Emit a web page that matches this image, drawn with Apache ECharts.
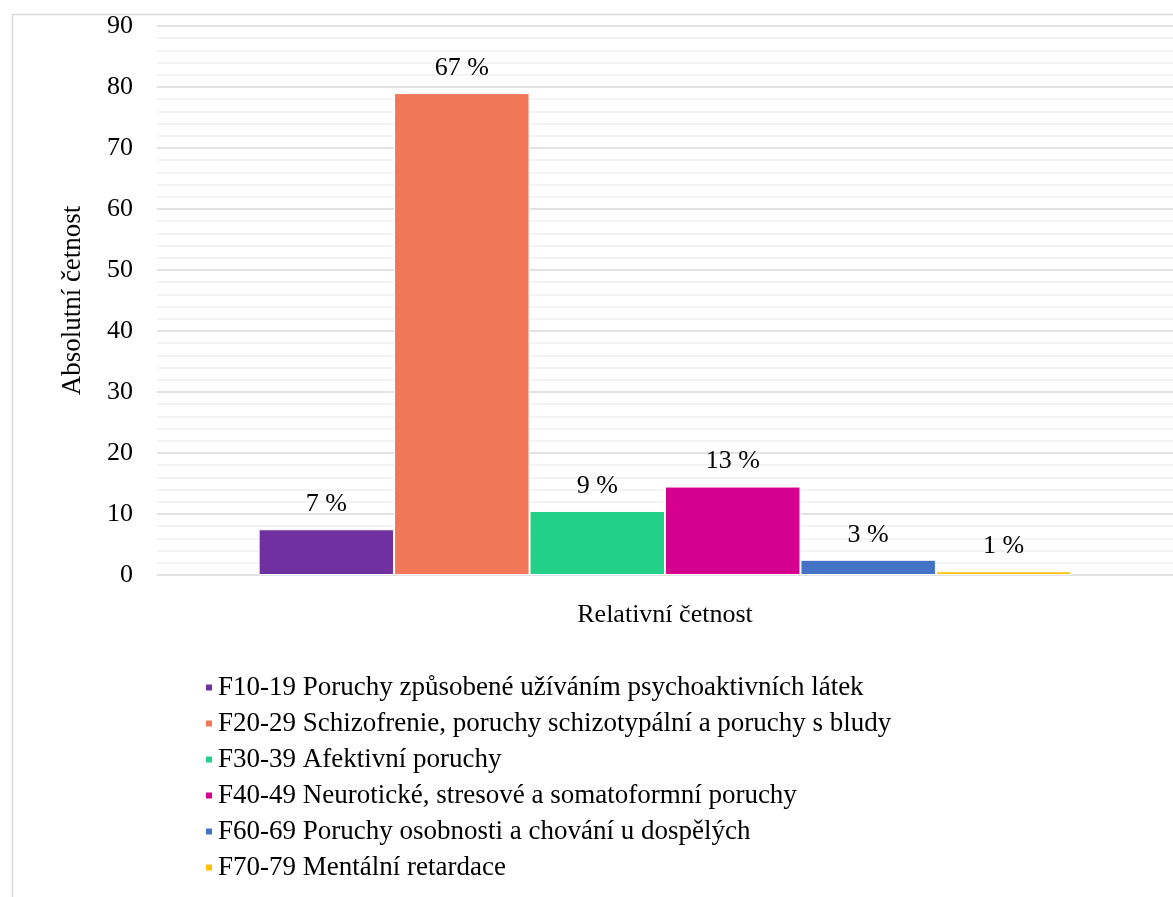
<!DOCTYPE html>
<html>
<head>
<meta charset="utf-8">
<script src="https://cdn.jsdelivr.net/npm/echarts@6/dist/echarts.min.js"></script>
<style>
html,body{margin:0;padding:0;background:#fff;}
#chart{width:1173px;height:897px;}
</style>
</head>
<body>
<div id="chart"></div>
<script>
const seriesNames = [
  'F10-19 Poruchy způsobené užíváním psychoaktivních látek',
  'F20-29 Schizofrenie, poruchy schizotypální a poruchy s bludy',
  'F30-39 Afektivní poruchy',
  'F40-49 Neurotické, stresové a somatoformní poruchy',
  'F60-69 Poruchy osobnosti a chování u dospělých',
  'F70-79 Mentální retardace'
];
const absoluteValues = [7.5, 79, 10.5, 14.5, 2.5, 0.6];
const percentLabels = ['7 %', '67 %', '9 %', '13 %', '3 %', '1 %'];
const colors = ['#7030a0', '#f27759', '#22d088', '#d6008f', '#4472c4', '#ffc000'];
const categories = [''];
const yTicks = {min: 0, max: 90, interval: 10};

const font = '"Liberation Serif", "Times New Roman", serif';
const chart = echarts.init(document.getElementById('chart'));
const series = seriesNames.map((name, i) => ({
  name: name,
  type: 'bar',
  data: [absoluteValues[i]],
  barGap: '0%',
  barCategoryGap: '20%',
  itemStyle: {color: colors[i], borderColor: '#fff', borderWidth: 1},
  label: {
    show: true, position: 'top', distance: 12,
    formatter: () => percentLabels[i],
    fontFamily: font, fontSize: 26, color: '#000'
  }
}));
chart.setOption({
  animation: false,
  backgroundColor: '#fff',
  color: colors,
  graphic: [{
    type: 'rect', left: 10, top: 12, z: -10,
    shape: {width: 1200, height: 900},
    style: {fill: 'none', stroke: '#d9d9d9', lineWidth: 1.5}
  }],
  grid: {left: 157, width: 1024, top: 26, bottom: 322},
  legend: {
    orient: 'vertical', left: 199, top: 669,
    itemWidth: 8, itemHeight: 8, itemGap: 9, icon: 'rect',
    textStyle: {fontFamily: font, fontSize: 27, color: '#000'},
    data: seriesNames
  },
  xAxis: {
    type: 'category', data: categories,
    name: 'Relativní četnost', nameLocation: 'middle', nameGap: 27,
    nameTextStyle: {fontFamily: font, fontSize: 26, color: '#000'},
    axisLine: {show: false}, axisTick: {show: false}, axisLabel: {show: false}
  },
  yAxis: {
    type: 'value', min: yTicks.min, max: yTicks.max, interval: yTicks.interval,
    name: 'Absolutní četnost', nameLocation: 'middle', nameGap: 71,
    nameTextStyle: {fontFamily: font, fontSize: 27, color: '#000'},
    axisLabel: {fontFamily: font, fontSize: 26, color: '#000', margin: 24},
    axisLine: {show: false}, axisTick: {show: false},
    splitLine: {lineStyle: {color: '#d9d9d9', width: 1.5}},
    minorTick: {show: false, splitNumber: 5},
    minorSplitLine: {show: true, lineStyle: {color: '#efefef', width: 1.5}}
  },
  series: series
});
</script>
</body>
</html>
